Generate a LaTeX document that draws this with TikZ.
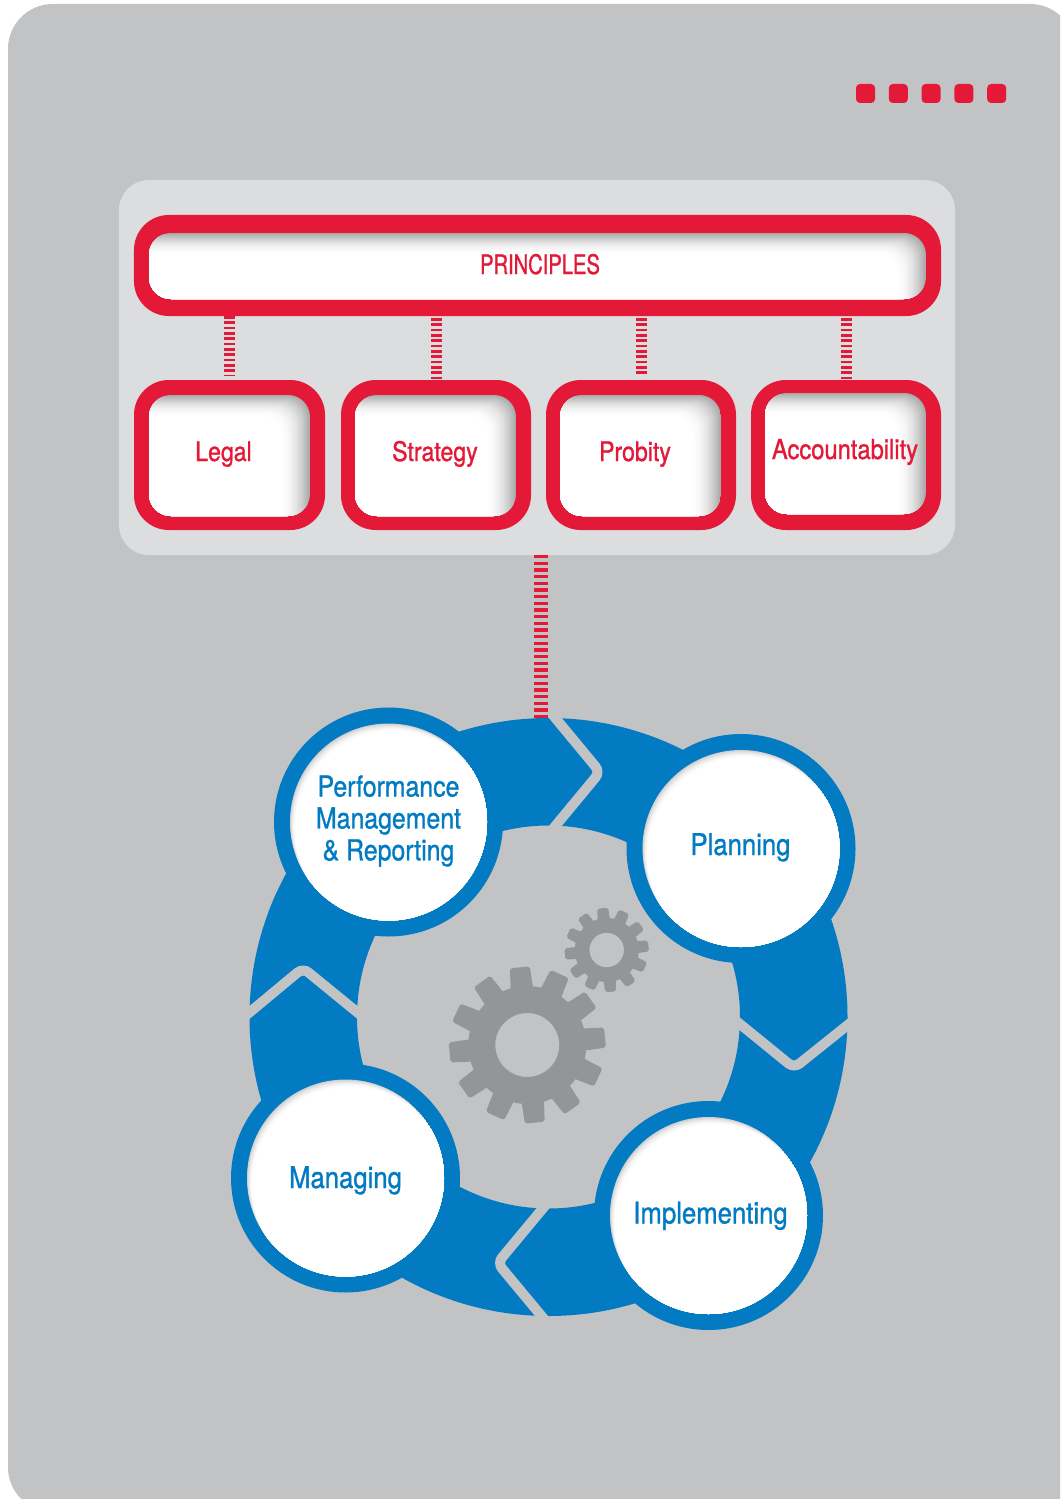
\documentclass[tikz,border=0pt]{standalone}
\usepackage{fontspec}
\setmainfont{TeX Gyre Heros}[FakeStretch=0.86,FakeBold=1.0]
\newfontfamily\capsfont{TeX Gyre Heros}[FakeStretch=0.75,FakeBold=1.0]
\usetikzlibrary{calc}
\definecolor{pagegray}{HTML}{C2C3C5}
\definecolor{panelgray}{HTML}{DCDDDF}
\definecolor{brandred}{HTML}{E31937}
\definecolor{brandblue}{HTML}{027BC3}
\definecolor{geargray}{HTML}{939598}
\tikzset{
  x=1bp,y=-1bp,
  redsq/.style={rectangle,fill=brandred,minimum size=19bp,inner sep=0pt,outer sep=0pt,rounded corners=4pt},
  redbox/.style={rectangle,fill=brandred,inner sep=0pt,outer sep=0pt,rounded corners=35pt},
  panelbox/.style={rectangle,fill=panelgray,inner sep=0pt,outer sep=0pt,rounded corners=30pt},
  bluedisc/.style={circle,fill=brandblue,minimum size=229bp,inner sep=0pt,outer sep=0pt},
  ringmark/.style={circle,minimum size=598bp,inner sep=0pt,outer sep=0pt},
  redlabel/.style={text=brandred,font=\fontsize{27}{30}\selectfont,inner sep=0pt,anchor=base},
  bluelabel/.style={text=brandblue,font=\fontsize{29}{32}\selectfont,inner sep=0pt,align=center},
  blueword/.style={text=brandblue,font=\fontsize{30}{32}\selectfont,inner sep=0pt,anchor=base},
  smallbars/.style={draw=brandred,line width=11bp,dash pattern=on 2.7bp off 2.63bp,xshift=-0.5bp},
  bigbars/.style={draw=brandred,line width=14bp,dash pattern=on 3.3bp off 3.37bp},
  gapline/.style={draw=pagegray,line width=10bp,rounded corners=7pt,line cap=butt},
}
\newcommand{\wellbox}[6]{%
  \begin{scope}
    \clip[rounded corners=22pt] (#1,#2) rectangle (#3,#4);
    \fill[black!34!white] (#1,#2) rectangle (#3,#4);
    \foreach \i in {1,...,20}{
      \pgfmathsetmacro{\tt}{\i/20}
      \pgfmathsetmacro{\pp}{34*(1-\tt)*(1-\tt)}
      \fill[black!\pp!white,rounded corners=20pt]
        (#1-30,#4+30) rectangle ({#3-#5*\tt},{#2+#6*\tt});
    }
  \end{scope}}
\newcommand{\welldisc}[2]{%
  \begin{scope}
    \clip (#1,#2) circle[radius=98.5];
    \fill[black!20!white] (#1,#2) circle[radius=98.5];
    \foreach \i in {1,...,14}{
      \pgfmathsetmacro{\tt}{\i/14}
      \pgfmathsetmacro{\pp}{20*(1-\tt)*(1-\tt)}
      \fill[black!\pp!white] ({#1+5.5*\tt},{#2+8*\tt}) circle[radius=98.5];
    }
  \end{scope}}
\newcommand{\gearat}[6]{%
  \fill[geargray,even odd rule] (#1,#2) circle[radius=#3] (#1,#2) circle[radius=#6];
  \foreach \a in {5.5,35.5,...,335.5}{
    \fill[geargray,shift={(#1,#2)},rotate=\a,rounded corners=2pt]
      ({#3-3},{-1.12*#5}) -- (#4,{-#5}) -- (#4,#5) -- ({#3-3},{1.12*#5}) -- cycle;
  }}
\begin{document}
\begin{tikzpicture}
\useasboundingbox (0,0) rectangle (1060,1499);
\clip (0,0) rectangle (1060,1499);
\fill[white] (0,0) rectangle (1060,1499);
\fill[pagegray,rounded corners=45pt] (8,4) rectangle (1075,1512);

% five squares
\foreach \n/\xx in {a/865.5,b/898.3,c/931.1,d/963.9,e/996.7}
  \node[redsq] (sq\n) at (\xx,93.5) {};

% panel and boxes
\node[panelbox,minimum width=836bp,minimum height=375bp] (panel) at (537,367.5) {};
\node[redbox,minimum width=807bp,minimum height=101bp] (principles) at (537.5,265.5) {};
\node[redbox,minimum width=191bp,minimum height=150bp] (legal) at (229.5,455) {};
\node[redbox,minimum width=190bp,minimum height=150bp] (strategy) at (436,455) {};
\node[redbox,minimum width=190bp,minimum height=150bp] (probity) at (641,455) {};
\node[redbox,minimum width=190bp,minimum height=150bp] (accountability) at (846,455) {};

\wellbox{149}{233}{926}{299}{30}{22}
\wellbox{149}{395}{310}{516}{30}{22}
\wellbox{355}{395}{516}{516}{30}{22}
\wellbox{560}{395}{721}{516}{30}{22}
\wellbox{765}{393}{926}{514}{30}{22}

\node[redlabel,font=\fontsize{27}{30}\capsfont] (tprinciples) at (540,274) {PRINCIPLES};
\node[redlabel] (tlegal) at (223.5,461) {Legal};
\node[redlabel] (tstrategy) at (435,461) {Strategy};
\node[redlabel] (tprobity) at (635,461) {Probity};
\node[redlabel,font=\fontsize{27.7}{30}\selectfont] (taccountability) at (845,459) {Accountability};

\draw[smallbars,shorten >=4bp] (legal.north |- principles.south) -- (legal.north);
\draw[smallbars,shorten <=2bp] (strategy.north |- principles.south) -- (strategy.north);
\draw[smallbars,shorten <=2bp,shorten >=4bp] (probity.north |- principles.south) -- (probity.north);
\draw[smallbars,shorten <=2bp] (accountability.north |- principles.south) -- (accountability.north);

% ring
\node[ringmark] (ring) at (548.5,1017) {};
\fill[brandblue,even odd rule] (ring.center) circle[radius=299] (ring.center) circle[radius=191.5];
\draw[gapline] (552,714) -- (600,772) -- (552,830);
\draw[gapline] (735,1020) -- (794,1068) -- (854,1020);
\draw[gapline] (244,1017) -- (303,968) -- (363,1017);
\draw[gapline] (546.5,1204) -- (497.5,1263) -- (546.5,1322);

% connector from panel to ring
\coordinate (busfrom) at ($(panel.south)+(4,0)$);
\coordinate (busto) at (busfrom |- ring.north);
\draw[bigbars] (busfrom) -- (busto);

% gears
\gearat{527.3}{1045}{59}{78}{10}{32}
\gearat{606.7}{950}{32}{42}{5.5}{17.3}

% discs
\node[bluedisc] (perfdisc) at (388.5,822) {};
\node[bluedisc] (plandisc) at (741,848.5) {};
\node[bluedisc] (impldisc) at (708.5,1215.5) {};
\node[bluedisc] (managedisc) at (345.5,1178) {};
\welldisc{388.5}{822}
\welldisc{741}{848.5}
\welldisc{708.5}{1215.5}
\welldisc{345.5}{1178}

\node[bluelabel] (tperf) at (388.5,821) {Performance\\Management\\\&\ Reporting};
\node[blueword] (tplan) at (740.5,855) {Planning};
\node[blueword] (timpl) at (710.5,1223.5) {Implementing};
\node[blueword] (tmanage) at (345.5,1188) {Managing};
\end{tikzpicture}
\end{document}
